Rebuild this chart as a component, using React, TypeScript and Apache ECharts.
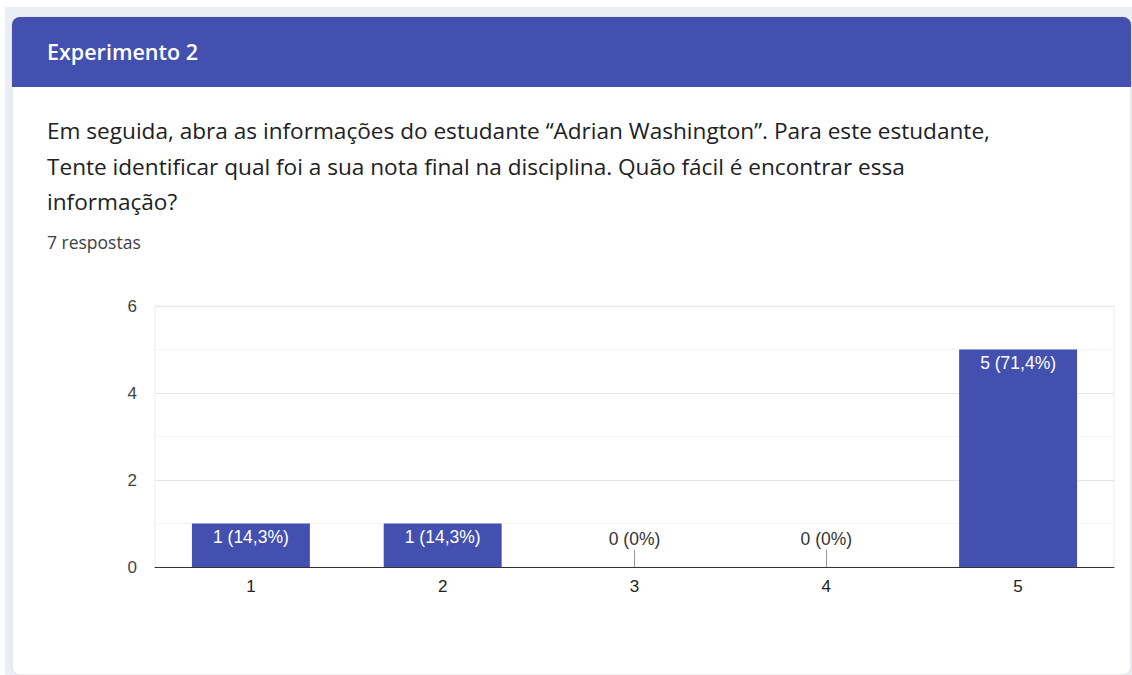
import React, { useEffect, useRef } from "react";
import * as echarts from "echarts";

const categories = ["1", "2", "3", "4", "5"];
const counts = [1, 1, 0, 0, 5];
const totalResponses = 7;
const yTicks = [0, 2, 4, 6];

const headerTitle = "Experimento 2";
const questionLines = [
  "Em seguida, abra as informações do estudante “Adrian Washington”. Para este estudante,",
  "Tente identificar qual foi a sua nota final na disciplina. Quão fácil é encontrar essa",
  "informação?",
];
const responsesLabel = `${totalResponses} respostas`;

const BLUE = "#4350af";
const CHART_FONT = "Arial, 'Liberation Sans', sans-serif";

function pctLabel(v: number): string {
  const p = (v / totalResponses) * 100;
  let s = p.toFixed(1).replace(".", ",");
  if (s.endsWith(",0")) s = s.slice(0, -2);
  return `${v} (${s}%)`;
}

export default function App() {
  const ref = useRef<HTMLDivElement>(null);
  useEffect(() => {
    if (!ref.current) return;
    const chart = echarts.init(ref.current, undefined, { renderer: "svg" });
    const barData = counts.map((v) => ({
      value: v,
      label:
        v === 0
          ? { position: "top", distance: 19, color: "#333333" }
          : { position: "insideTop", distance: 4, color: "#ffffff" },
    }));
    const stems = counts
      .map((v, i) => ({ v, c: categories[i] }))
      .filter((d) => d.v === 0)
      .map((d) => [{ coord: [d.c, 0] }, { coord: [d.c, 0.4] }]);

    chart.setOption({
      animation: false,
      backgroundColor: "#ffffff",
      graphic: [
        { type: "rect", z: -10, shape: { x: 5, y: 7, width: 1127, height: 668 }, style: { fill: "#eceef6" } },
        { type: "rect", z: -9, shape: { x: 12, y: 17, width: 1119, height: 658, r: 8 }, style: { fill: "#ffffff", stroke: "#dadce0", lineWidth: 1 } },
        { type: "rect", z: -8, shape: { x: 12, y: 17, width: 1119, height: 70, r: [8, 8, 0, 0] }, style: { fill: BLUE } },
        {
          type: "text", left: 47, top: 40,
          style: { text: headerTitle, fill: "#ffffff", font: "600 21.5px 'Open Sans', Roboto, sans-serif" },
        },
        ...questionLines.map((t, i) => ({
          type: "text", left: 47, top: 119 + i * 35.5,
          style: { text: t, fill: "#202124", font: "400 22.6px 'Open Sans', Roboto, sans-serif" },
        })),
        {
          type: "text", left: 47, top: 233,
          style: { text: responsesLabel, fill: "#3c4043", font: "400 17.5px 'Open Sans', Roboto, sans-serif" },
        },
      ],
      grid: {
        left: 155, top: 306, width: 959, height: 261,
        show: true, borderColor: "#ececec", borderWidth: 1, backgroundColor: "transparent",
      },
      xAxis: {
        type: "category",
        data: categories,
        axisLine: { show: true, lineStyle: { color: "#333333", width: 1 } },
        axisTick: { show: false },
        axisLabel: { color: "#222222", fontSize: 17, fontFamily: CHART_FONT, margin: 11 },
        splitLine: { show: false },
      },
      yAxis: {
        type: "value",
        min: yTicks[0],
        max: yTicks[yTicks.length - 1],
        interval: yTicks[1] - yTicks[0],
        axisLine: { show: false },
        axisTick: { show: false },
        axisLabel: { color: "#444444", fontSize: 17, fontFamily: CHART_FONT, margin: 18 },
        splitLine: { show: true, lineStyle: { color: "#e6e6e6", width: 1 } },
        minorTick: { show: false, splitNumber: 2 },
        minorSplitLine: { show: true, lineStyle: { color: "#f3f3f3", width: 1 } },
      },
      series: [
        {
          type: "bar",
          data: barData,
          barWidth: "61.5%",
          itemStyle: { color: BLUE },
          label: {
            show: true,
            fontSize: 17.5,
            fontFamily: CHART_FONT,
            formatter: (p: any) => pctLabel(p.value),
          },
          markLine: {
            silent: true,
            symbol: "none",
            label: { show: false },
            lineStyle: { color: "#999999", width: 1, type: "solid" },
            data: stems,
          },
        },
      ],
    });
    return () => chart.dispose();
  }, []);
  return (
    <div
      ref={ref}
      style={{ position: "fixed", left: 0, top: 0, width: 1132, height: 675 }}
    />
  );
}
